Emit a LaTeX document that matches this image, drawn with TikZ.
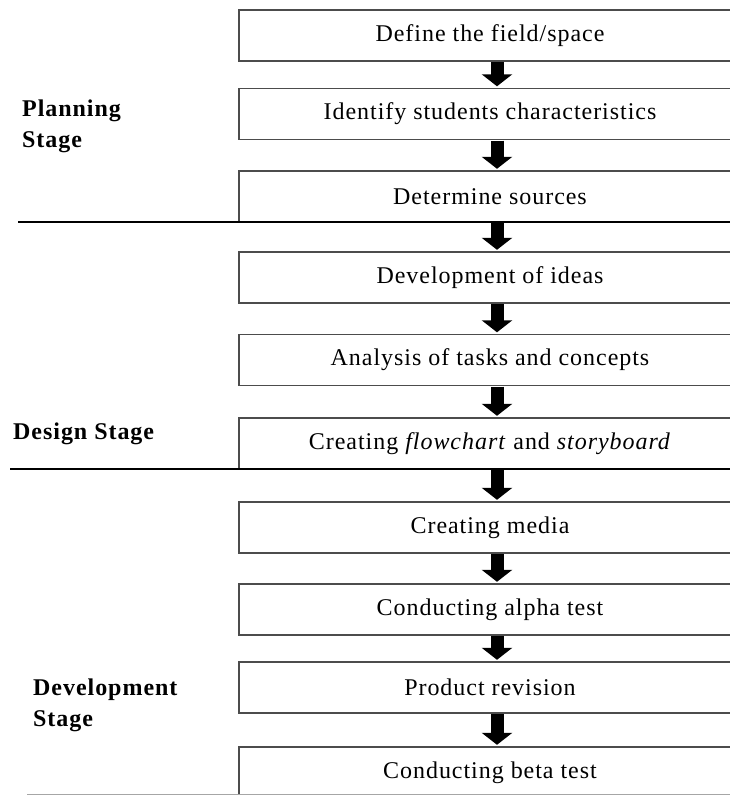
\documentclass[tikz,border=0pt]{standalone}
\usepackage{fontspec}
\setmainfont{Liberation Serif}[LetterSpace=4]
\usepackage{tikz}
\usetikzlibrary{calc,positioning,arrows.meta}
\tikzset{stepbox/.style={rectangle,minimum width=502pt,minimum height=51pt,inner sep=0pt,font=\fontsize{24}{28}\selectfont,text=black},boxline/.style={draw=black!70,line width=1.5pt},stagelbl/.style={anchor=base west,align=left,inner sep=0pt,font=\fontsize{24}{31}\selectfont\bfseries}}

\begin{document}
\begin{tikzpicture}[x=1pt,y=-1pt,flow/.style={line width=13pt,-{Triangle[width=30pt,length=12pt]},shorten >=2pt,shorten <=1pt}]
			\useasboundingbox (0,0) rectangle (729,795);
			\node[stepbox] (define) at (490,35.5) {Define the field/space};
			\node[stepbox] (identify) at (490,114) {Identify students characteristics};
			\node[stepbox] (sources) at (490,196.5) {Determine sources};

			\node[stepbox] (ideas) at (490,277.5) {Development of ideas};
			\node[stepbox] (analysis) at (490,360) {Analysis of tasks and concepts};
			\node[stepbox] (flowchart) at (490,443.5) {Creating \textit{flowchart} and \textit{storyboard}};

			\node[stepbox] (media) at (490,527.5) {Creating media};
			\node[stepbox] (alpha) at (490,609.5) {Conducting alpha test};
			\node[stepbox] (revision) at (490,687.5) {Product revision};
			\node[stepbox] (beta) at (490,772.5) {Conducting beta test};

			% boxes run on past the right edge of the page
			\foreach \n in {define,identify,sources,ideas,analysis,flowchart,media,alpha,revision,beta}
				\draw[boxline] ([xshift=40pt]\n.north east) -- (\n.north west) -- (\n.south west) -- ([xshift=40pt]\n.south east);

			\node[stagelbl] (planning) at (22,147) {Planning\\Stage};
			\node[stagelbl] (design) at (13,439) {Design Stage};
			\node[stagelbl] (development) at (33,726) {Development\\Stage};

			\draw[line width=2pt] (18,222) -- (760,222);
			\draw[line width=2pt] (10,469) -- (760,469);
			\draw[black!35,line width=1pt] (27,794.5) -- (760,794.5);

			\foreach \a/\b in {define/identify,identify/sources,sources/ideas,ideas/analysis,analysis/flowchart,flowchart/media,media/alpha,alpha/revision,revision/beta}
				\draw[flow] ([xshift=7pt]\a.south) -- ([xshift=7pt]\b.north);
		\end{tikzpicture}
\end{document}
